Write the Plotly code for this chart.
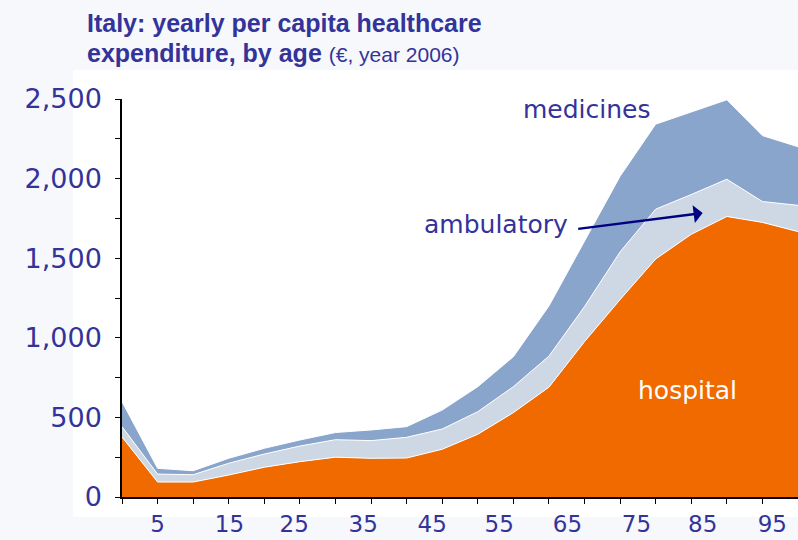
import plotly.graph_objects as go

# ---- data ----
ages = [0, 5, 10, 15, 20, 25, 30, 35, 40, 45, 50, 55, 60, 65, 70, 75, 80, 85, 90, 95]
hospital = [377, 94, 94, 138, 187, 222, 250, 243, 245, 300, 394, 530, 690, 976, 1240, 1495, 1650, 1762, 1725, 1667]
ambulatory = [65, 50, 46, 74, 83, 98, 110, 111, 130, 127, 142, 163, 195, 220, 300, 313, 250, 234, 131, 165]
medicines = [157, 36, 25, 31, 36, 38, 45, 67, 67, 119, 157, 188, 315, 414, 475, 534, 521, 499, 414, 368]

x_tick_labels = ["5", "15", "25", "35", "45", "55", "65", "75", "85", "95"]
x_tick_label_pos = [5.0, 15.1, 24.2, 33.9, 43.6, 53.0, 62.6, 72.3, 81.6, 91.4]
y_tick_vals = [0, 500, 1000, 1500, 2000, 2500]

TEXT = "#333399"
ORANGE = "#F06A00"
LIGHT = "#CDD8E4"
MED = "#8AA5CB"

fig = go.Figure()
for name, vals, col in [("hospital", hospital, ORANGE),
                        ("ambulatory", ambulatory, LIGHT),
                        ("medicines", medicines, MED)]:
    fig.add_trace(go.Scatter(
        x=ages, y=vals, name=name, stackgroup="one", mode="lines",
        line=dict(color="white", width=1), fillcolor=col, hoverinfo="x+y+name"))

fig.update_layout(
    width=798, height=540,
    margin=dict(l=122, r=0, t=99, b=43, autoexpand=False),
    paper_bgcolor="#F6F8FC", plot_bgcolor="white",
    showlegend=False,
    font=dict(family="DejaVu Sans, Verdana, sans-serif", color=TEXT, size=25),
)

fig.add_shape(type="rect", xref="paper", yref="paper",
              x0=-0.0725, x1=1.0, y0=-0.05, y1=1.073,
              fillcolor="white", line=dict(width=0), layer="below")

fig.update_xaxes(
    range=[0, 95], showgrid=False, zeroline=False, automargin=False,
    showline=True, linecolor="black", linewidth=1.5,
    tickmode="array", tickvals=x_tick_label_pos, ticktext=x_tick_labels,
    ticks="", ticklabelstandoff=6,
    tickfont=dict(size=23, color=TEXT, family="DejaVu Sans, Verdana, sans-serif"),
    minor=dict(tick0=0, dtick=5, ticks="outside", ticklen=5, tickcolor="black", tickwidth=1, showgrid=False),
)
fig.update_yaxes(
    range=[0, 2500], showgrid=False, zeroline=False, automargin=False,
    showline=True, linecolor="black", linewidth=1.5,
    tickmode="array", tickvals=y_tick_vals, tickformat=",",
    ticks="outside", ticklen=5, tickcolor="black", ticklabelstandoff=8,
    tickfont=dict(size=27, color=TEXT, family="DejaVu Sans, Verdana, sans-serif"),
    minor=dict(tick0=0, dtick=250, ticks="outside", ticklen=5, tickcolor="black", tickwidth=1, showgrid=False),
)

TITLE_FONT = "Liberation Sans, Arial, sans-serif"
fig.add_annotation(xref="paper", yref="paper", x=-0.055, y=1.192,
                   xanchor="left", yanchor="middle", showarrow=False,
                   text="<b>Italy: yearly per capita healthcare</b>",
                   font=dict(family=TITLE_FONT, size=25, color=TEXT))
fig.add_annotation(xref="paper", yref="paper", x=-0.055, y=1.115,
                   xanchor="left", yanchor="middle", showarrow=False,
                   text="<b>expenditure, by age</b> <span style='font-size:21px'>(€, year 2006)</span>",
                   font=dict(family=TITLE_FONT, size=25, color=TEXT))

fig.add_annotation(x=65.3, y=2431, text="medicines", showarrow=False,
                   font=dict(size=25, color=TEXT))
fig.add_annotation(x=52.5, y=1709, text="ambulatory", showarrow=False,
                   font=dict(size=25, color=TEXT))
fig.add_annotation(x=79.5, y=672, text="hospital", showarrow=False,
                   font=dict(size=25, color="white"))
fig.add_annotation(x=81.6, y=1784, ax=63.9, ay=1683, axref="x", ayref="y",
                   text="", showarrow=True, arrowhead=1, arrowsize=1.2,
                   arrowwidth=2.5, arrowcolor="#000080")

fig.write_html("out.html", config={"displayModeBar": False},
               post_script="document.body.style.margin='0';document.body.style.padding='0';")
